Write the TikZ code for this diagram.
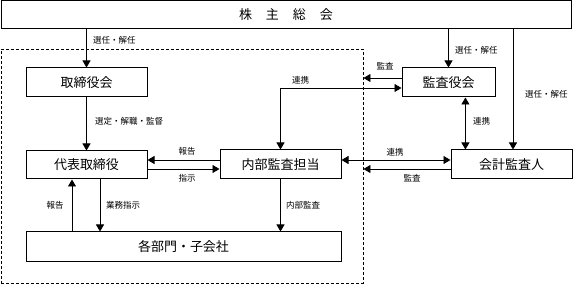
\documentclass[tikz,border=0pt]{standalone}
\usepackage{fontspec}
\setmainfont{Noto Sans CJK JP}
\usetikzlibrary{arrows.meta,calc}
\begin{document}
\begin{tikzpicture}[x=1pt,y=-1pt,
  box/.style={draw, line width=1pt, inner sep=0pt, font=\fontsize{13}{13}\selectfont},
  lbl/.style={font=\fontsize{8.5}{8.5}\selectfont, inner sep=0pt},
  arr/.style={line width=0.9pt, -{Triangle[length=7pt,width=8pt]}},
  darr/.style={line width=0.9pt, {Triangle[length=7pt,width=8pt]}-{Triangle[length=7pt,width=8pt]}},
  grpbox/.style={draw, line width=0.9pt, dash pattern=on 3pt off 2pt, inner sep=0pt}
]
\useasboundingbox (0,0) rectangle (582,286);
% group frame
\node[grpbox, minimum width=362pt, minimum height=234pt] (grp) at (182,166) {};
% boxes
\node[box, minimum width=570pt, minimum height=28pt] (top) at (286,15)
  {株\hspace{14pt}主\hspace{14pt}総\hspace{14pt}会};
\node[box, minimum width=121pt, minimum height=29pt] (tori) at (86.5,82.5) {取締役会};
\node[box, minimum width=121pt, minimum height=28pt] (daihyo) at (86.5,165) {代表取締役};
\node[box, minimum width=121pt, minimum height=29pt] (naibu) at (280.5,164.5) {内部監査担当};
\node[box, minimum width=315pt, minimum height=30pt] (kakubu) at (183.5,247) {各部門・子会社};
\node[box, minimum width=93pt, minimum height=29pt] (kansa) at (448.5,82.5) {監査役会};
\node[box, minimum width=121pt, minimum height=29pt] (kaikei) at (511.5,164.5) {会計監査人};
% helper coordinates
\coordinate (n1) at ($(naibu.west)+(0,-4.5)$);
\coordinate (d1) at ($(daihyo.east)+(0,4)$);
\coordinate (d2) at ($(daihyo.south)+(-14.5,0)$);
\coordinate (d3) at ($(daihyo.south)+(13.5,0)$);
\coordinate (k2) at ($(kansa.west)+(0,-4.5)$);
\coordinate (n2) at ($(naibu.east)+(0,-4.5)$);
\coordinate (k3) at ($(kaikei.west)+(0,4.5)$);
\coordinate (kk) at ($(kansa.south west)!0.68!(kansa.south east)$);
\coordinate (kt) at ($(kaikei.north)+(1.5,0)$);
% connectors
\draw[arr] (tori.north |- top.south) -- (tori.north);
\draw[arr] (tori.south) -- (daihyo.north);
\draw[arr] (n1) -- (n1 -| daihyo.east);
\draw[arr] (d1) -- (d1 -| naibu.west);
\draw[arr] (d2 |- kakubu.north) -- (d2);
\draw[arr] (d3) -- (d3 |- kakubu.north);
\draw[arr] (naibu.south) -- (naibu.south |- kakubu.north);
\draw[darr] (naibu.north) |- ($(kansa.west)+(0,5.5)$);
\draw[arr] (k2) -- (k2 -| grp.east);
\draw[arr] (kansa.north |- top.south) -- (kansa.north);
\draw[darr] (kk) -- (kk |- kaikei.north);
\draw[arr] (kt |- top.south) -- (kt);
\draw[darr] (n2) -- (n2 -| kaikei.west);
\draw[arr] (k3) -- (k3 -| grp.east);
% labels
\node[lbl, anchor=west] (l1) at (93,40) {選任・解任};
\node[lbl, anchor=west] (l2) at (95,121) {選定・解職・監督};
\node[lbl] (l3) at (187,151) {報告};
\node[lbl] (l4) at (187,178) {指示};
\node[lbl] (l5) at (55,205) {報告};
\node[lbl, anchor=west] (l6) at (106,205) {業務指示};
\node[lbl, anchor=west] (l7) at (286,205) {内部監査};
\node[lbl, anchor=west] (l8) at (292,80) {連携};
\node[lbl] (l9) at (385,66) {監査};
\node[lbl, anchor=west] (l10) at (455,50) {選任・解任};
\node[lbl, anchor=west] (l11) at (473,121) {連携};
\node[lbl, anchor=west] (l12) at (525,94) {選任・解任};
\node[lbl] (l13) at (395,152) {連携};
\node[lbl] (l14) at (412,178) {監査};
\end{tikzpicture}
\end{document}
